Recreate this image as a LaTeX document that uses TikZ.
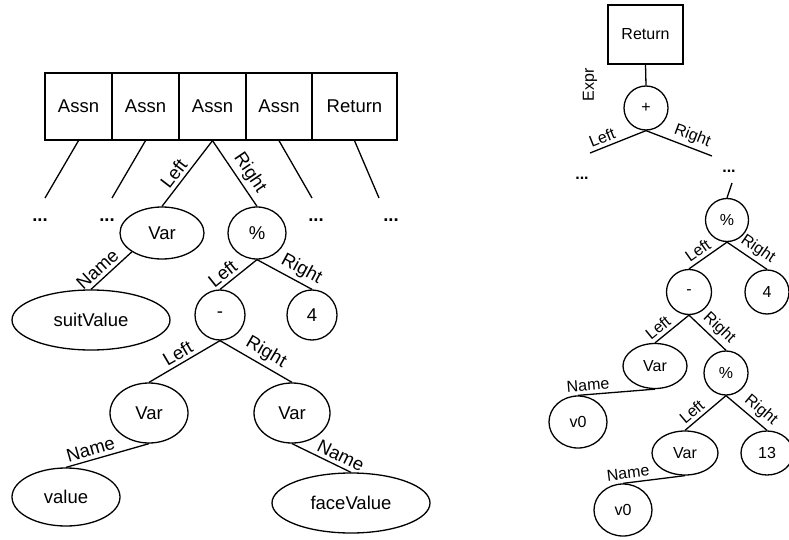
\documentclass[tikz,border=0pt]{standalone}
\usepackage{fontspec}
\setmainfont{Liberation Sans}
\usetikzlibrary{shapes.geometric}
\tikzset{
  stmt/.style={draw,inner sep=0pt},
  oval/.style={draw,ellipse,inner sep=0pt},
  rnd/.style={draw,circle,inner sep=0pt},
  lbl/.style={sloped,above},
  dots/.style={inner sep=0pt},
}
\begin{document}
\begin{tikzpicture}[x=1pt,y=-1pt,line width=1.3pt]
\useasboundingbox (0,0) rectangle (789,540);
% left: block of statements
\begin{scope}[font=\fontsize{18.5}{22}\selectfont]
\foreach \bx/\bw/\blb [count=\i] in {78.5/67/Assn,145.5/67/Assn,212.5/67/Assn,279/66/Assn,354.5/85/Return}{\node[stmt,minimum width=\bw pt,minimum height=67pt](s\i) at (\bx,106.5){\blb};}
\foreach \i/\ex/\dx in {1/45/40,2/112/107,4/312/316,5/379/391}{\coordinate (e\i) at (\ex,198);\node[dots](d\i) at (\dx,220){\bfseries ...};\draw(s\i.south)--(e\i);}
\node[oval,minimum width=84pt,minimum height=52pt](lvar) at (162,233){Var};
\node[oval,minimum width=58pt,minimum height=52pt](lmod) at (257,233){\%};
\node[oval,minimum width=158pt,minimum height=60pt](suit) at (91,320){suitValue};
\node[rnd,minimum size=50pt](lsub) at (220,315){-};
\node[rnd,minimum size=50pt](lfour) at (312,315){4};
\node[oval,minimum width=78pt,minimum height=60pt](lvl) at (149,413){Var};
\node[oval,minimum width=76pt,minimum height=60pt](lvr) at (292,413){Var};
\node[oval,minimum width=108pt,minimum height=58pt](val) at (66,497){value};
\node[oval,minimum width=158pt,minimum height=60pt](face) at (351,503){faceValue};
\draw(s3.south)--(lvar.north)node[lbl,pos=0.6]{Left};
\draw(s3.south)--(lmod.north)node[lbl,pos=0.6]{Right};
\draw(lvar.south west)--(suit.north)node[lbl,pos=0.67]{Name};
\draw(lmod.south)--(lsub.north)node[lbl,pos=0.75]{Left};
\draw(lmod.south)--(lfour.north)node[lbl,pos=0.7]{Right};
\draw(lsub.south)--(lvl.north)node[lbl,pos=0.52]{Left};
\draw(lsub.south)--(lvr.north)node[lbl,pos=0.55]{Right};
\draw(lvl.south)--(val.north)node[lbl,pos=0.67]{Name};
\draw(lvr.south)--(face.north)node[lbl,pos=0.75]{Name};
\end{scope}
% right: return expression
\begin{scope}[font=\fontsize{16}{19}\selectfont]
\node[stmt,minimum width=75pt,minimum height=59pt](ret) at (645.5,34.5){Return};
\node[rnd,minimum size=44pt](plus) at (646,108){+};
\node[rotate=90](expr) at (590,85){Expr};
\coordinate (pl) at (590,153);
\coordinate (pr) at (712,156);
\node[dots](rd1) at (582,178){\bfseries ...};
\node[dots](rd2) at (729,171){\bfseries ...};
\coordinate (pe) at (732,183);
\node[rnd,minimum size=43pt](rmod) at (727,220){\%};
\node[rnd,minimum size=45pt](rsub) at (689,292){-};
\node[rnd,minimum size=44pt](rfour) at (767,292){4};
\node[oval,minimum width=64pt,minimum height=45pt](rvar) at (655,366){Var};
\node[rnd,minimum size=44pt](rmodb) at (726,373){\%};
\node[oval,minimum width=58pt,minimum height=52pt](rva) at (578,422){v0};
\node[oval,minimum width=66pt,minimum height=44pt](rvarb) at (685,453){Var};
\node[oval,minimum width=52pt,minimum height=44pt](rthirteen) at (767,453){13};
\node[oval,minimum width=58pt,minimum height=52pt](rvb) at (623,510){v0};
\draw(ret.south)--(plus.north);
\draw(plus.south)--(pl)node[lbl,pos=0.72]{Left};
\draw(plus.south)--(pr)node[lbl,pos=0.64]{Right};
\draw(pe)--(rmod.north);
\draw(rmod.south)--(rsub.north)node[lbl,pos=0.62]{Left};
\draw(rmod.south)--(rfour.north)node[lbl,pos=0.61]{Right};
\draw(rsub.south)--(rvar.north)node[lbl,pos=0.73]{Left};
\draw(rsub.south)--(rmodb.north)node[lbl,pos=0.6]{Right};
\draw(rvar.south)--(rva.north)node[lbl,pos=0.86]{Name};
\draw(rmodb.south)--(rvarb.north)node[lbl,pos=0.68]{Left};
\draw(rmodb.south)--(rthirteen.north)node[lbl,pos=0.67]{Right};
\draw(rvarb.south)--(rvb.north)node[lbl,pos=0.9]{Name};
\end{scope}
\end{tikzpicture}
\end{document}
